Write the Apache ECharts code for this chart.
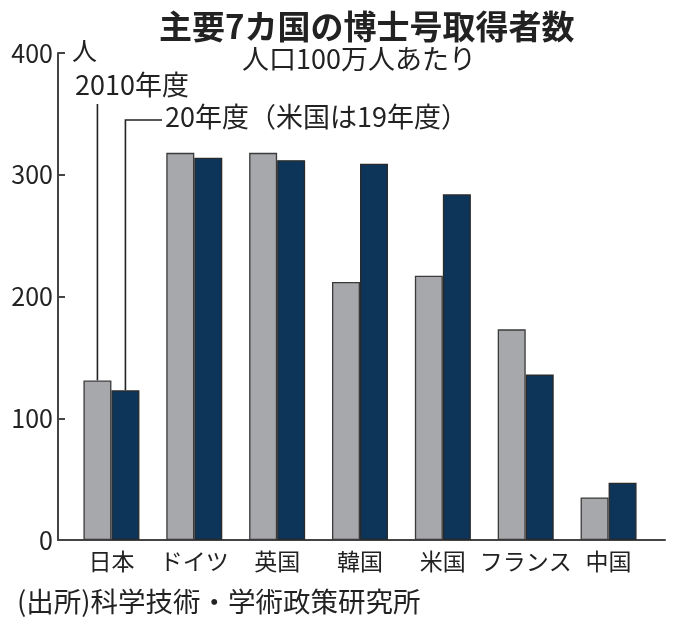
<!DOCTYPE html>
<html lang="ja">
<head>
<meta charset="utf-8">
<title>主要7カ国の博士号取得者数</title>
<script src="https://cdn.jsdelivr.net/npm/echarts@6/dist/echarts.min.js"></script>
<style>
  html, body { margin: 0; padding: 0; background: #fff; }
  #chart { width: 680px; height: 627px; }
</style>
</head>
<body>
<div id="chart"></div>
<script>
// データ（人口100万人あたりの博士号取得者数）
const categories = ['日本', 'ドイツ', '英国', '韓国', '米国', 'フランス', '中国']
const fy2010 = [131, 318, 318, 212, 217, 173, 35]
const fy2020 = [123, 314, 312, 309, 284, 136, 47]
const yTicks = [0, 100, 200, 300, 400]

const FONT = '"Noto Sans CJK JP", "Noto Sans", sans-serif'
const GRAY = '#a7a8ab'
const NAVY = '#0c3559'
const INK = '#222'

const mChart = echarts.init(document.getElementById('chart'))

const options = {
  animation: false,
  backgroundColor: '#fff',
  textStyle: { fontFamily: FONT },
  // 0: 棒グラフ用, 1: 軸の枠線用
  grid: [
    { left: 70, right: 30, top: 53, bottom: 87 },
    { left: 58, right: 15, top: 53, bottom: 87 }
  ],
  xAxis: [
    {
      type: 'category',
      gridIndex: 0,
      data: categories,
      axisLine: { show: false },
      axisTick: { show: false },
      axisLabel: { color: INK, fontSize: 23, margin: 10, interval: 0, fontFamily: FONT }
    },
    {
      type: 'value',
      gridIndex: 1,
      min: 0,
      max: 1,
      axisLine: { show: true, lineStyle: { color: '#444', width: 2 } },
      axisTick: { show: false },
      axisLabel: { show: false },
      splitLine: { show: false }
    }
  ],
  yAxis: [
    {
      type: 'value',
      gridIndex: 0,
      min: 0,
      max: yTicks[yTicks.length - 1],
      show: false
    },
    {
      type: 'value',
      gridIndex: 1,
      min: yTicks[0],
      max: yTicks[yTicks.length - 1],
      interval: 100,
      axisLine: { show: true, lineStyle: { color: '#444', width: 2 } },
      axisTick: { show: true, inside: true, length: 7, lineStyle: { color: '#444', width: 2 } },
      axisLabel: { color: INK, fontSize: 25, margin: 5, fontFamily: FONT },
      splitLine: { show: false }
    }
  ],
  series: [
    {
      name: '2010年度',
      type: 'bar',
      xAxisIndex: 0,
      yAxisIndex: 0,
      barWidth: 28,
      barGap: '0%',
      itemStyle: { color: GRAY, borderColor: '#3a3a3a', borderWidth: 1.3 },
      data: fy2010
    },
    {
      name: '20年度',
      type: 'bar',
      xAxisIndex: 0,
      yAxisIndex: 0,
      barWidth: 28,
      barGap: '0%',
      itemStyle: { color: NAVY, borderColor: '#2a2a2a', borderWidth: 1.3 },
      data: fy2020
    }
  ]
}
mChart.setOption(options)

// 凡例の引き出し線（日本の棒の上端から）
const p10 = mChart.convertToPixel({ gridIndex: 0 }, [0, fy2010[0]])
const p20 = mChart.convertToPixel({ gridIndex: 0 }, [0, fy2020[0]])
const x10 = p10[0] - 14
const x20 = p20[0] + 14
const lineStyle = { stroke: '#222', lineWidth: 1.6 }

mChart.setOption({
  graphic: [
    {
      type: 'text', left: 159, top: 10,
      style: { text: '主要7カ国の博士号取得者数', font: 'bold 33px ' + FONT, fill: '#222' }
    },
    {
      type: 'text', left: 242, top: 45,
      style: { text: '人口100万人あたり', font: '27px ' + FONT, fill: INK }
    },
    {
      type: 'text', left: 72, top: 38,
      style: { text: '人', font: '25px ' + FONT, fill: INK }
    },
    {
      type: 'text', left: 75, top: 71,
      style: { text: '2010年度', font: '27px ' + FONT, fill: INK }
    },
    {
      type: 'text', left: 165, top: 103,
      style: { text: '20年度（米国は19年度）', font: '27px ' + FONT, fill: INK }
    },
    {
      type: 'polyline',
      shape: { points: [[x10, 104], [x10, p10[1]]] },
      style: lineStyle
    },
    {
      type: 'polyline',
      shape: { points: [[162, 120], [x20, 120], [x20, p20[1]]] },
      style: lineStyle
    },
    {
      type: 'text', left: 17, top: 588,
      style: { text: '(出所)科学技術・学術政策研究所', font: '27.5px ' + FONT, fill: INK }
    }
  ]
})
</script>
</body>
</html>
